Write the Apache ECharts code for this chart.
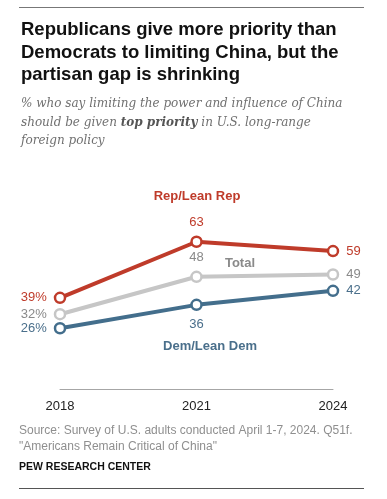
<!DOCTYPE html>
<html><head><meta charset="utf-8">
<script src="https://cdn.jsdelivr.net/npm/echarts@6/dist/echarts.min.js"></script>
<style>html,body{margin:0;padding:0;background:#fff}#c{width:387px;height:499px}</style>
</head><body><div id="c"></div>
<script>
const years = ['2018', '2021', '2024'];
const repValues = [39, 63, 59];
const totalValues = [32, 48, 49];
const demValues = [26, 36, 42];
const repLabelPos = ['left', 'top', 'right'];
const totalLabelPos = ['left', 'top', 'right'];
const demLabelPos = ['left', 'bottom', 'right'];

const chart = echarts.init(document.getElementById('c'), null, {renderer: 'canvas'});
const F = '"Liberation Sans", Arial, sans-serif';

function mk(name, vals, pos, lineColor, labelColor) {
  return {
    name, type: 'line', data: vals.map((v, i) => ({
      value: v,
      label: {position: pos[i], distance: 7}
    })),
    symbol: 'circle', symbolSize: 10,
    lineStyle: {color: lineColor, width: 4},
    itemStyle: {color: '#fff', borderColor: lineColor, borderWidth: 2.5},
    label: {
      show: true, color: labelColor, fontFamily: F, fontSize: 13,
      formatter: p => p.dataIndex === 0 ? p.value + '%' : String(p.value)
    },
    emphasis: {disabled: true}, z: 3, animation: false
  };
}

chart.setOption({
  animation: false,
  grid: {left: 60, right: 54, top: 202, bottom: 110},
  xAxis: {
    type: 'category', data: years, boundaryGap: false,
    axisLine: {lineStyle: {color: '#a6a6a6', width: 1}},
    axisTick: {show: false},
    axisLabel: {color: '#222', fontFamily: F, fontSize: 13, margin: 11}
  },
  yAxis: {type: 'value', min: 0, max: 80, show: false, splitLine: {show: false}},
  series: [
    mk('Total', totalValues, totalLabelPos, '#c6c6c6', '#8a8a8a'),
    mk('Dem', demValues, demLabelPos, '#436e8c', '#4a6f8b'),
    mk('Rep', repValues, repLabelPos, '#bf3b2a', '#bf3b2a')
  ],
  graphic: [
    {type: 'line', shape: {x1: 19, y1: 7.5, x2: 364, y2: 7.5}, style: {stroke: '#777', lineWidth: 1}},
    {type: 'text', left: 21, top: 19, style: {
      text: 'Republicans give more priority than\nDemocrats to limiting China, but the\npartisan gap is shrinking',
      font: 'bold 18.5px "Liberation Sans", Arial, sans-serif', fill: '#111', lineHeight: 22.5}},
    {type: 'text', left: 21, top: 98, style: {
      rich: {
        n: {font: 'italic 12px "DejaVu Serif", Georgia, serif', fill: '#707070', lineHeight: 18.5},
        b: {font: 'italic bold 12px "DejaVu Serif", Georgia, serif', fill: '#555', lineHeight: 18.5}
      },
      text: '{n|% who say limiting the power and influence of China}\n{n|should be given }{b|top priority}{n| in U.S. long-range}\n{n|foreign policy}'
    }},
    {type: 'text', x: 197, y: 196, style: {text: 'Rep/Lean Rep', align: 'center', verticalAlign: 'middle',
      font: 'bold 13px "Liberation Sans", Arial, sans-serif', fill: '#bf3b2a'}},
    {type: 'text', x: 240, y: 263, style: {text: 'Total', align: 'center', verticalAlign: 'middle',
      font: 'bold 13px "Liberation Sans", Arial, sans-serif', fill: '#8a8a8a'}},
    {type: 'text', x: 210, y: 346, style: {text: 'Dem/Lean Dem', align: 'center', verticalAlign: 'middle',
      font: 'bold 13px "Liberation Sans", Arial, sans-serif', fill: '#4a6f8b'}},
    {type: 'text', left: 19, top: 423, style: {
      text: 'Source: Survey of U.S. adults conducted April 1-7, 2024. Q51f.\n"Americans Remain Critical of China"',
      font: '12px "Liberation Sans", Arial, sans-serif', fill: '#8f8f8f', lineHeight: 15.5}},
    {type: 'text', left: 19, top: 462, style: {text: 'PEW RESEARCH CENTER',
      font: 'bold 10.5px "Liberation Sans", Arial, sans-serif', fill: '#111'}},
    {type: 'line', shape: {x1: 19, y1: 488.5, x2: 364, y2: 488.5}, style: {stroke: '#555', lineWidth: 1}}
  ]
});
</script></body></html>
